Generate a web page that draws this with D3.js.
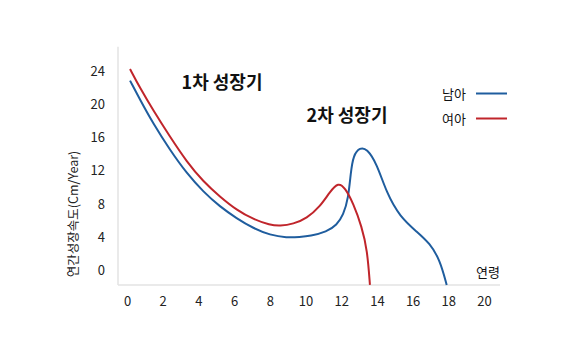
<!DOCTYPE html>
<html><head><meta charset="utf-8">
<script src="https://cdn.jsdelivr.net/npm/d3@7"></script>
<style>body{margin:0;background:#fff}svg{display:block}text{font-family:"Noto Sans CJK KR","Noto Sans",sans-serif}</style>
</head><body>
<svg id="c" width="573" height="358"></svg>
<script>
const xTicks = [0,2,4,6,8,10,12,14,16,18,20];
const yTicks = [0,4,8,12,16,20,24];
const boyAge = [0.17,0.73,1.47,2.41,3.34,4.27,5.21,6.14,7.08,8.01,8.95,9.69,10.25,11.19,11.75,12.12,12.40,12.53,12.68,13.05,13.43,13.99,14.55,15.29,16.23,16.97,17.53,17.91];
const boyVel = [22.9,20.6,17.7,14.5,11.7,9.47,7.65,6.25,5.04,4.23,3.9,4.0,4.1,4.63,5.44,6.65,8.67,11.7,13.9,14.8,14.7,12.9,9.27,6.45,4.63,3.22,1.21,-1.8];
const girlAge = [0.17,0.73,1.47,2.41,3.34,4.27,5.21,6.14,7.08,8.01,8.57,9.32,10.07,10.81,11.37,11.84,12.21,12.68,13.15,13.46,13.61];
const girlVel = [24.3,22.0,19.3,16.1,13.1,10.7,8.86,7.26,6.13,5.44,5.32,5.56,6.25,7.65,9.47,10.6,9.95,8.06,5.24,2.42,-1.8];
const series = [
  {name:"남아", age:boyAge, vel:boyVel, color:"#1f5d9e"},
  {name:"여아", age:girlAge, vel:girlVel, color:"#c0252b"}
];
const svg = d3.select("#c");
const x = d3.scaleLinear().domain([0,20]).range([127,484]);
const y = d3.scaleLinear().domain([0,24]).range([270,71.5]);
const yBottom = y(-1.8), yTop = y(27);
const xLeft = 118, xRight = 500;
svg.append("line").attr("x1",xLeft).attr("x2",xLeft).attr("y1",yTop).attr("y2",yBottom).attr("stroke","#e3e3e3").attr("stroke-width",1.5);
svg.append("line").attr("x1",xLeft).attr("x2",xRight).attr("y1",yBottom).attr("y2",yBottom).attr("stroke","#e3e3e3").attr("stroke-width",1.5);
const yAxis = d3.axisLeft(y).tickValues(yTicks).tickSize(0).tickPadding(0);
const gy = svg.append("g").attr("transform","translate(105,0)").call(yAxis);
gy.select(".domain").remove();
gy.selectAll("text").attr("font-size",13).attr("fill","#222").attr("font-family","'Noto Sans CJK KR',sans-serif");
const xAxis = d3.axisBottom(x).tickValues(xTicks).tickSize(0).tickPadding(0);
const gx = svg.append("g").attr("transform","translate(0,297)").call(xAxis);
gx.select(".domain").remove();
gx.selectAll("text").attr("font-size",13).attr("fill","#222").attr("font-family","'Noto Sans CJK KR',sans-serif");
const line = d3.line().x(d=>x(d[0])).y(d=>y(d[1])).curve(d3.curveBasis);
series.forEach(s=>{
  const pts = s.age.map((a,i)=>[a,s.vel[i]]);
  svg.append("path").attr("d",line(pts)).attr("fill","none").attr("stroke",s.color).attr("stroke-width",2);
});
svg.append("text").attr("x",222).attr("y",89).attr("text-anchor","middle").attr("font-size",18).attr("font-weight","bold").attr("fill","#111").text("1차 성장기");
svg.append("text").attr("x",347).attr("y",122).attr("text-anchor","middle").attr("font-size",18).attr("font-weight","bold").attr("fill","#111").text("2차 성장기");
series.forEach((s,i)=>{
  const ly = 93.5 + i*25;
  svg.append("text").attr("x",466).attr("y",ly+5).attr("text-anchor","end").attr("font-size",13).attr("fill","#111").text(s.name);
  svg.append("line").attr("x1",476).attr("x2",507).attr("y1",ly).attr("y2",ly).attr("stroke",s.color).attr("stroke-width",2);
});
svg.append("text").attr("x",488).attr("y",277).attr("text-anchor","middle").attr("font-size",13).attr("fill","#111").text("연령");
svg.append("text").attr("transform","translate(78,214) rotate(-90)").attr("text-anchor","middle").attr("font-size",12.5).attr("fill","#222").text("연간성장속도(Cm/Year)");
</script>
</body></html>
